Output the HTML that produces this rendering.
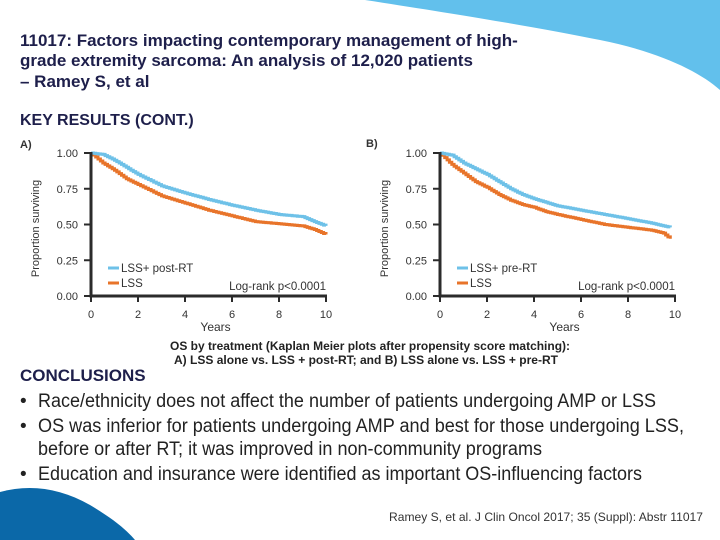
<!DOCTYPE html>
<html><head><meta charset="utf-8"><style>
body{margin:0;background:#fff;}
svg{display:block;font-family:"Liberation Sans",sans-serif;}
</style></head><body>
<svg width="720" height="540" viewBox="0 0 720 540">
<path d="M365,0 L720,0 L720,90 C700,72 660,52 600,40 C540,28 470,16 365,0 Z" fill="#62c0ec"/>
<path d="M0,492 C30,484 60,488 90,505 C110,517 125,528 135,540 L0,540 Z" fill="#0b68a8"/>
<g fill="#1e1f4b" font-weight="bold" font-size="17">
<text x="20" y="46">11017: Factors impacting contemporary management of high-</text>
<text x="20" y="66">grade extremity sarcoma: An analysis of 12,020 patients</text>
<text x="20" y="87">– Ramey S, et al</text>
</g>
<text x="20" y="125" fill="#1e1f4b" font-weight="bold" font-size="16">KEY RESULTS (CONT.)</text>
<text x="20" y="148" font-size="11" font-weight="bold" fill="#333">A)</text>
<text x="366" y="147" font-size="11" font-weight="bold" fill="#333">B)</text>
<g id="chartA"></g>
<g id="chartB"></g>
<g font-size="12" font-weight="bold" fill="#222" text-anchor="middle">
<text x="370" y="350" textLength="400" lengthAdjust="spacingAndGlyphs">OS by treatment (Kaplan Meier plots after propensity score matching):</text>
<text x="366" y="364" textLength="384" lengthAdjust="spacingAndGlyphs">A) LSS alone vs. LSS + post-RT; and B) LSS alone vs. LSS + pre-RT</text>
</g>
<text x="20" y="381" fill="#1e1f4b" font-weight="bold" font-size="17">CONCLUSIONS</text>
<g font-size="19" fill="#222">
<text x="20" y="407">•</text><text x="38" y="407" textLength="618" lengthAdjust="spacingAndGlyphs">Race/ethnicity does not affect the number of patients undergoing AMP or LSS</text>
<text x="20" y="432">•</text><text x="38" y="432" textLength="646" lengthAdjust="spacingAndGlyphs">OS was inferior for patients undergoing AMP and best for those undergoing LSS,</text>
<text x="38" y="455" textLength="504" lengthAdjust="spacingAndGlyphs">before or after RT; it was improved in non-community programs</text>
<text x="20" y="480">•</text><text x="38" y="480" textLength="604" lengthAdjust="spacingAndGlyphs">Education and insurance were identified as important OS-influencing factors</text>
</g>
<text x="703" y="521" text-anchor="end" font-size="12" fill="#333" textLength="314" lengthAdjust="spacingAndGlyphs">Ramey S, et al. J Clin Oncol 2017; 35 (Suppl): Abstr 11017</text>
</svg>
<script>
const xTicks=[0,2,4,6,8,10];
const yTicks=[0,0.25,0.5,0.75,1];
const aYears=[0,0.5,1,1.5,2,3,4,5,6,7,8,9,9.5,10];
const aPostRT=[1,0.99,0.95,0.90,0.85,0.77,0.72,0.675,0.635,0.60,0.57,0.555,0.52,0.49];
const aLSS=[1,0.93,0.88,0.82,0.78,0.70,0.65,0.60,0.56,0.52,0.505,0.49,0.465,0.43];
const bYears=[0,0.5,1,1.5,2,2.5,3,3.5,4,4.5,5,6,7,8,9,9.5,9.8];
const bPreRT=[1,0.985,0.93,0.89,0.85,0.80,0.75,0.71,0.68,0.655,0.63,0.60,0.57,0.54,0.51,0.49,0.48];
const bLSS=[1,0.92,0.86,0.80,0.76,0.71,0.67,0.64,0.62,0.59,0.57,0.535,0.50,0.48,0.46,0.44,0.40];
const NS='http://www.w3.org/2000/svg';
function mk(tag,attrs,parent){const e=document.createElementNS(NS,tag);for(const k in attrs)e.setAttribute(k,attrs[k]);parent.appendChild(e);return e;}
function draw(gid,x0,x1,yTitleX,tickLabelX,years,s1,s2,label1,logX){
 const g=document.getElementById(gid);
 const y0=296,yTop=153;
 const xs=v=>x0+(x1-x0)*v/10;
 const ys=v=>y0-(y0-yTop)*v;
 function path(vals){let d='M'+xs(years[0])+','+ys(vals[0]);
  for(let i=1;i<years.length;i++){const x=xs(years[i]);const xp=xs(years[i-1]);const steps=Math.max(2,Math.round((x-xp)/2.5));
   for(let k=1;k<=steps;k++){const xx=xp+(x-xp)*k/steps;const vv=vals[i-1]+(vals[i]-vals[i-1])*k/steps;d+=' H'+xx.toFixed(1)+' V'+ys(vv).toFixed(1);}}
  return d;}
 const l1=mk('path',{d:path(s2),fill:'none',stroke:'#e8742a','stroke-width':3},g);
 
 
 const l2=mk('path',{d:path(s1),fill:'none',stroke:'#6ec1e8','stroke-width':3},g);
 
 
 const ax=mk('path',{d:`M${x0},${yTop-1} V${y0} H${x1+1}`,fill:'none',stroke:'#2b2b2b','stroke-width':3},g);
 
 
 yTicks.forEach(v=>{
  mk('line',{x1:x0-7,x2:x0,y1:ys(v),y2:ys(v),stroke:'#2b2b2b','stroke-width':2},g);
  const t=mk('text',{x:tickLabelX,y:ys(v)+4,'font-size':11,fill:'#333','text-anchor':'end'},g);
  t.textContent=v.toFixed(2);
  
  
 });
 xTicks.forEach(v=>{
  mk('line',{x1:xs(v),x2:xs(v),y1:y0,y2:y0+6,stroke:'#2b2b2b','stroke-width':2},g);
  const t=mk('text',{x:xs(v),y:y0+22,'font-size':11,fill:'#333','text-anchor':'middle'},g);
  t.textContent=v;
  
  
 });
 const xt=mk('text',{x:xs(5.3),y:331,'font-size':12,fill:'#333','text-anchor':'middle'},g);
 xt.textContent='Years';
 
 
 const yt=mk('text',{x:0,y:0,'font-size':11,fill:'#333','text-anchor':'middle',transform:`translate(${yTitleX},${(y0+yTop)/2+4}) rotate(-90)`},g);
 yt.textContent='Proportion surviving';
 
 
 const lx=x0+17;
 mk('line',{x1:lx,x2:lx+11,y1:268,y2:268,stroke:'#6ec1e8','stroke-width':3},g);
 mk('line',{x1:lx,x2:lx+11,y1:283,y2:283,stroke:'#e8742a','stroke-width':3},g);
 const t1=mk('text',{x:lx+13,y:272,'font-size':11.5,fill:'#333'},g);t1.textContent=label1;
 
 
 const t2=mk('text',{x:lx+13,y:287,'font-size':11.5,fill:'#333'},g);t2.textContent='LSS';
 
 
 const lr=mk('text',{x:logX,y:290,'font-size':11.5,fill:'#333','text-anchor':'end'},g);lr.textContent='Log-rank p<0.0001';
 
 
}
draw('chartA',91,326,39,78,aYears,aPostRT,aLSS,'LSS+ post-RT',326);
draw('chartB',440,675,388,427,bYears,bPreRT,bLSS,'LSS+ pre-RT',675);
</script>
</body></html>
